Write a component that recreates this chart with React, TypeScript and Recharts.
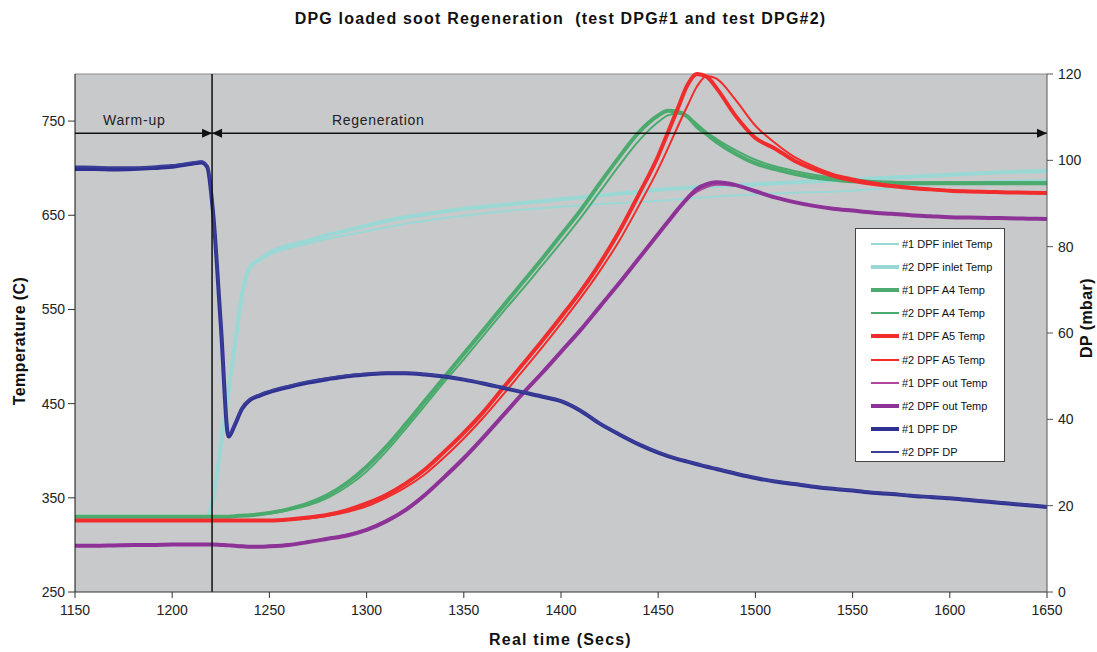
import React from "react";
import {
  CartesianGrid,
  Legend,
  Line,
  LineChart,
  ReferenceLine,
  XAxis,
  YAxis,
} from "recharts";

// Sample times (s) shared by every series
const TIME = [
  1150, 1160, 1170, 1180, 1190, 1200, 1210, 1215, 1218, 1221, 1225, 1229, 1232, 1236, 1240, 1245,
  1250, 1260, 1270, 1280, 1290, 1300, 1310, 1320, 1330, 1340, 1350, 1360, 1370, 1380, 1390, 1400,
  1410, 1420, 1430, 1440, 1450, 1455, 1460, 1465, 1470, 1475, 1480, 1490, 1500, 1510, 1520, 1530,
  1540, 1550, 1560, 1570, 1580, 1590, 1600, 1610, 1620, 1630, 1640, 1650,
];

// Temperatures (C)
const INLET_1 = [
  330, 330, 330, 330, 330, 330, 330, 327, 330, 348, 406, 465, 509, 567, 594, 602,
  608, 615, 620, 625, 629, 633, 637, 641, 644, 647, 649.5, 652, 654, 656, 657.5, 659,
  660.5, 662, 663, 664, 665.5, 666, 667, 667.5, 668.5, 669, 670, 671, 672, 673, 674, 674.5,
  675, 676, 677.5, 679, 681, 683, 684, 685, 686, 686.5, 687, 687.5,
];
const INLET_2 = [
  330, 330, 330, 330, 330, 330, 330, 327, 330, 348, 406, 465, 509, 567, 595, 603,
  610, 618, 623, 629, 634, 639, 644, 648, 651, 654, 657, 659, 661, 663, 665, 667,
  669, 671, 673, 675, 677, 677.8, 678.5, 679.3, 680, 680.5, 681, 682, 683, 684, 685, 686,
  687, 688, 689, 690, 691, 692, 693, 694, 695, 696, 696.5, 697,
];
const A4_1 = [
  330, 330, 330, 330, 330, 330, 330, 330, 330, 330, 330, 330, 330.5, 331, 331.5, 332.5,
  334, 338, 344, 353, 366, 383, 404, 428, 453, 478, 503, 528, 553, 578, 603, 629,
  655, 684, 712, 738, 756, 761, 760, 755, 744, 736, 728, 715, 705, 699, 694, 690,
  688, 686, 685, 684.5, 684, 684, 684, 684, 684, 684, 684, 684,
];
const A4_2 = [
  330, 330, 330, 330, 330, 330, 330, 330, 330, 330, 330, 330, 330.5, 331, 331.5, 332,
  333, 337, 342, 350, 362, 378, 399, 423, 448, 473, 497, 522, 547, 571, 596, 621,
  647, 675, 703, 729, 749, 756, 758, 755, 747, 738, 731, 719, 709, 702, 697, 693,
  690, 688, 686.5, 685.5, 685, 685, 685, 685, 685, 685, 685, 685,
];
const A5_1 = [
  326, 326, 326, 326, 326, 326, 326, 326, 326, 326, 326, 326, 326, 326, 326, 326,
  326, 327, 329, 332, 337, 344, 353, 365, 380, 399, 419, 441, 466, 491, 516, 542,
  569, 599, 633, 672, 713, 738, 763, 788, 800, 797, 785, 755, 732, 721, 708, 699,
  692, 687, 683.5, 681, 679, 677.5, 676, 675.3, 674.8, 674.3, 674, 673.6,
];
const A5_2 = [
  326, 326, 326, 326, 326, 326, 326, 326, 326, 326, 326, 326, 326, 326, 326, 326,
  326, 326.5, 328, 331, 335, 341, 350, 361, 375, 393, 413, 435, 459, 484, 509, 535,
  562, 591, 623, 660, 699, 721, 744, 766, 787, 798, 795, 772, 745, 727, 712, 702,
  694, 689, 685, 682, 680, 678, 676.5, 675.5, 675, 674.5, 674.2, 674,
];
const OUT_1 = [
  300, 300, 300, 300.5, 300.5, 301, 301, 301, 301, 301, 300.5, 300, 299.5, 299, 298.5, 298.5,
  299, 300.5, 303.5, 307, 311, 317, 326, 338, 354, 373, 393, 415, 438, 461, 483, 506,
  529, 554, 579, 605, 631, 644, 656, 667, 675, 680, 682.5, 681, 675, 669, 664, 660,
  657, 655, 653, 651.5, 650, 649, 648, 647.6, 647.2, 646.8, 646.4, 646,
];
const OUT_2 = [
  299, 299, 299.5, 300, 300, 300.5, 300.5, 300.5, 300.5, 300.5, 300, 299.5, 299, 298.5, 298, 298,
  298.5, 300, 303, 306.5, 310, 316, 325, 337, 353, 372, 392, 414, 437, 460, 482, 505,
  528, 553, 578, 604, 630, 643, 656, 668, 678, 683, 685, 682, 675.5, 669, 664, 660,
  657, 655, 653, 651.5, 650, 649, 648, 647.6, 647.2, 646.8, 646.4, 646,
];

// Pressure drop (mbar)
const DP_1 = [
  98, 98, 97.9, 98, 98.2, 98.5, 99.2, 99.5, 98.5, 88, 62, 36, 38.5, 42.5, 44.5, 45.5,
  46.3, 47.5, 48.5, 49.3, 50, 50.4, 50.7, 50.7, 50.4, 49.9, 49.2, 48.3, 47.3, 46.3, 45.3, 44.2,
  42, 39, 36.5, 34.2, 32.3, 31.5, 30.8, 30.2, 29.6, 29, 28.5, 27.4, 26.4, 25.6, 25, 24.4,
  23.9, 23.5, 23, 22.7, 22.3, 22, 21.7, 21.3, 20.9, 20.5, 20.1, 19.7,
];
const DP_2 = [
  98.6, 98.5, 98.4, 98.4, 98.6, 98.9, 99.5, 99.8, 98.8, 88.5, 62.5, 36.5, 38.8, 42.8, 44.7, 45.8,
  46.6, 47.8, 48.8, 49.6, 50.2, 50.6, 50.8, 50.8, 50.5, 50, 49.3, 48.4, 47.4, 46.4, 45.4, 44.3,
  42.1, 39.1, 36.6, 34.3, 32.4, 31.6, 30.9, 30.3, 29.7, 29.1, 28.6, 27.5, 26.5, 25.7, 25.1, 24.5,
  24, 23.6, 23.1, 22.8, 22.4, 22.1, 21.8, 21.4, 21, 20.6, 20.2, 19.8,
];

const X_TICKS = [1150, 1200, 1250, 1300, 1350, 1400, 1450, 1500, 1550, 1600, 1650];
const TEMP_TICKS = [250, 350, 450, 550, 650, 750];
const DP_TICKS = [0, 20, 40, 60, 80, 100, 120];

const SPLIT_TIME = 1220.5; // fin du warm-up
const ARROW_TEMP = 737;

const FONT = "'Liberation Sans', Arial, sans-serif";
const INLET = "#9AD8D5";
const GREEN = "#4BAA6D";
const RED = "#F02C2C";
const MAGENTA = "#B0459B";
const PURPLE = "#8D3398";
const NAVY = "#2E3192";
const NAVY_2 = "#3A3E96";

type Serie = {
  key: string;
  name: string;
  color: string;
  width: number;
  axis: "left" | "right";
  values: number[];
};

const SERIES: Serie[] = [
  { key: "inlet1", name: "#1 DPF inlet Temp", color: INLET, width: 2, axis: "left", values: INLET_1 },
  { key: "inlet2", name: "#2 DPF inlet Temp", color: INLET, width: 4, axis: "left", values: INLET_2 },
  { key: "a41", name: "#1 DPF A4 Temp", color: GREEN, width: 4, axis: "left", values: A4_1 },
  { key: "a42", name: "#2 DPF A4 Temp", color: GREEN, width: 2, axis: "left", values: A4_2 },
  { key: "a51", name: "#1 DPF A5 Temp", color: RED, width: 4, axis: "left", values: A5_1 },
  { key: "a52", name: "#2 DPF A5 Temp", color: RED, width: 2, axis: "left", values: A5_2 },
  { key: "out1", name: "#1 DPF out Temp", color: MAGENTA, width: 2, axis: "left", values: OUT_1 },
  { key: "out2", name: "#2 DPF out Temp", color: PURPLE, width: 4, axis: "left", values: OUT_2 },
  { key: "dp1", name: "#1 DPF DP", color: NAVY, width: 4, axis: "right", values: DP_1 },
  { key: "dp2", name: "#2 DPF DP", color: NAVY_2, width: 2, axis: "right", values: DP_2 },
];

const rows = TIME.map((t, i) => {
  const row: Record<string, number> = { t };
  SERIES.forEach((s) => (row[s.key] = s.values[i]));
  return row;
});

const tickStyle = { fill: "#222", fontSize: 14, fontFamily: FONT };

// flèche horizontale avec pointes optionnelles
function arrow(startHead: boolean, endHead: boolean) {
  return (p: any) => {
    const { x1, y1, x2, y2 } = p;
    const L = 10;
    const W = 4.5;
    return (
      <g>
        <line x1={x1} y1={y1} x2={x2} y2={y2} stroke="#111" strokeWidth={1.5} />
        {startHead && (
          <polygon points={`${x1},${y1} ${x1 + L},${y1 - W} ${x1 + L},${y1 + W}`} fill="#111" />
        )}
        {endHead && (
          <polygon points={`${x2},${y2} ${x2 - L},${y2 - W} ${x2 - L},${y2 + W}`} fill="#111" />
        )}
      </g>
    );
  };
}

function LegendBox() {
  return (
    <div
      style={{
        width: 150,
        height: 234,
        boxSizing: "border-box",
        background: "#fff",
        border: "1px solid #444",
        paddingTop: 3,
        fontFamily: FONT,
        fontSize: 11,
        color: "#111",
      }}
    >
      {SERIES.map((s) => (
        <div key={s.key} style={{ height: 23.2, display: "flex", alignItems: "center" }}>
          <span
            style={{
              display: "inline-block",
              marginLeft: 15,
              width: 28,
              height: s.width === 4 ? 4 : 2,
              background: s.color,
            }}
          />
          <span style={{ marginLeft: 3 }}>{s.name}</span>
        </div>
      ))}
    </div>
  );
}

const textStyle: React.CSSProperties = {
  position: "absolute",
  fontFamily: FONT,
  color: "#111",
  whiteSpace: "pre",
};

export default function App() {
  return (
    <div style={{ position: "absolute", left: 0, top: 0, width: 1097, height: 652, background: "#fff" }}>
      <LineChart width={1097} height={652} data={rows} margin={{ top: 74, right: 10, left: 15, bottom: 30 }}>
        <CartesianGrid fill="#C8C9CB" horizontal={false} vertical={false} />
        <XAxis
          dataKey="t"
          type="number"
          domain={[1150, 1650]}
          ticks={X_TICKS}
          height={30}
          tick={tickStyle}
          tickSize={6}
          tickMargin={7}
          axisLine={{ stroke: "#333" }}
          tickLine={{ stroke: "#333" }}
        />
        <YAxis
          yAxisId="left"
          domain={[250, 800]}
          ticks={TEMP_TICKS}
          width={60}
          tick={tickStyle}
          tickSize={7}
          tickMargin={3}
          axisLine={{ stroke: "#111" }}
          tickLine={{ stroke: "#333" }}
        />
        <YAxis
          yAxisId="right"
          orientation="right"
          domain={[0, 120]}
          ticks={DP_TICKS}
          width={40}
          tick={tickStyle}
          tickSize={6}
          tickMargin={5}
          axisLine={{ stroke: "#555" }}
          tickLine={{ stroke: "#555" }}
        />
        <ReferenceLine yAxisId="left" y={800} stroke="#8A8A8A" />
        {SERIES.map((s) => (
          <Line
            key={s.key}
            yAxisId={s.axis}
            dataKey={s.key}
            name={s.name}
            type="monotone"
            stroke={s.color}
            strokeWidth={s.width}
            dot={false}
            activeDot={false}
            isAnimationActive={false}
          />
        ))}
        <ReferenceLine yAxisId="left" x={SPLIT_TIME} stroke="#111" strokeWidth={1.5} />
        <ReferenceLine
          yAxisId="left"
          segment={[
            { x: 1150, y: ARROW_TEMP },
            { x: SPLIT_TIME, y: ARROW_TEMP },
          ]}
          shape={arrow(false, true)}
        />
        <ReferenceLine
          yAxisId="left"
          segment={[
            { x: SPLIT_TIME, y: ARROW_TEMP },
            { x: 1650, y: ARROW_TEMP },
          ]}
          shape={arrow(true, true)}
        />
        <Legend
          layout="vertical"
          align="center"
          verticalAlign="middle"
          content={() => <LegendBox />}
          wrapperStyle={{ left: 855, top: 228, width: 150, height: 234 }}
        />
      </LineChart>

      <div
        style={{
          ...textStyle,
          left: 0,
          width: 1121,
          top: 10,
          textAlign: "center",
          fontSize: 16,
          letterSpacing: 1.2,
          fontWeight: "bold",
        }}
      >
        {"DPG loaded soot Regeneration  (test DPG#1 and test DPG#2)"}
      </div>
      <div
        style={{
          ...textStyle,
          left: 0,
          width: 1121,
          top: 631,
          textAlign: "center",
          fontSize: 16,
          letterSpacing: 1.2,
          fontWeight: "bold",
        }}
      >
        Real time (Secs)
      </div>
      <div
        style={{
          ...textStyle,
          left: 20,
          top: 341,
          fontSize: 16,
          letterSpacing: 0.4,
          fontWeight: "bold",
          transform: "translate(-50%, -50%) rotate(-90deg)",
        }}
      >
        Temperature (C)
      </div>
      <div
        style={{
          ...textStyle,
          left: 1087,
          top: 318,
          fontSize: 16,
          letterSpacing: 0.4,
          fontWeight: "bold",
          transform: "translate(-50%, -50%) rotate(-90deg)",
        }}
      >
        DP (mbar)
      </div>
      <div style={{ ...textStyle, left: 103, top: 112, fontSize: 14, letterSpacing: 0.8, color: "#222" }}>
        Warm-up
      </div>
      <div style={{ ...textStyle, left: 332, top: 112, fontSize: 14, letterSpacing: 0.7, color: "#222" }}>
        Regeneration
      </div>
    </div>
  );
}
